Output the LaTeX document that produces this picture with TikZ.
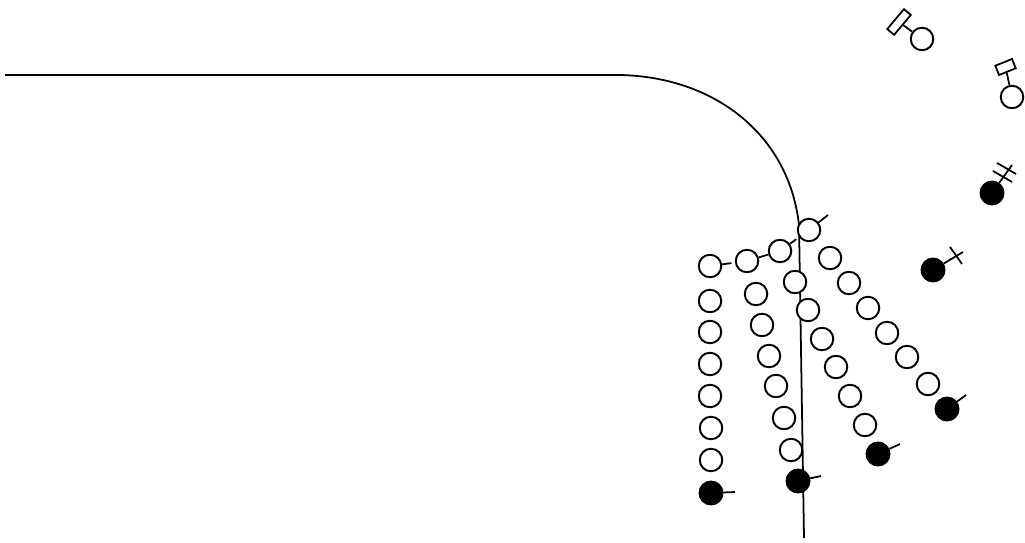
\documentclass[tikz,border=0pt]{standalone}
\usepackage{tikz}
\tikzset{
	bead/.style={circle, draw, fill=white, inner sep=0pt, minimum size=.225cm, line width=.55pt},
	endbead/.style={circle, draw, fill=black, inner sep=0pt, minimum size=.23cm, line width=.55pt},
	flag/.style={rectangle, draw, inner sep=0pt, line width=.5pt},
	stick/.style={line width=.5pt},
}

\begin{document}
\begin{tikzpicture}[x=.01cm, y=-.01cm]
	\useasboundingbox (0,0) rectangle (1025,543);

	% backbone
	\coordinate (start) at (5,75);
	\coordinate (bendA) at (620,75);
	\coordinate (bendB) at (799,225);
	\coordinate (stop) at (804,538);
	\draw [stick](start) -- (bendA) .. controls (715,77) and (789,135) .. (bendB) -- (stop);

	% head chain
	\node [bead] (h1) at (809,230) {};
	\node [bead] (h2) at (780,251) {};
	\node [bead] (h3) at (747,261) {};
	\node [bead] (h4) at (710,266) {};
	\coordinate (h1end) at (828,215);
	\draw [stick](h1) -- (h1end);
	\draw [stick, shorten >=1pt](h2) -- (h1);
	\draw [stick](h3) -- (h2);
	\draw [stick, shorten >=1pt](h4) -- (h3);

	% first arm
	\node [bead] (a1) at (710,301) {};
	\node [bead] (a2) at (710,332) {};
	\node [bead] (a3) at (710,364) {};
	\node [bead] (a4) at (710,396) {};
	\node [bead] (a5) at (711,428) {};
	\node [bead] (a6) at (711,460) {};
	\node [endbead] (a7) at (711,493) {};
	\coordinate (a7end) at (735,492);
	\draw [stick](a7) -- (a7end);

	% second arm
	\node [bead] (b1) at (756,294) {};
	\node [bead] (b2) at (762,325) {};
	\node [bead] (b3) at (769,356) {};
	\node [bead] (b4) at (776,386) {};
	\node [bead] (b5) at (784,418) {};
	\node [bead] (b6) at (791,450) {};
	\node [endbead] (b7) at (798,481) {};
	\coordinate (b7end) at (821,476);
	\draw [stick](b7) -- (b7end);

	% third arm
	\node [bead] (c1) at (795,282) {};
	\node [bead] (c2) at (808,310) {};
	\node [bead] (c3) at (822,339) {};
	\node [bead] (c4) at (836,367) {};
	\node [bead] (c5) at (850,396) {};
	\node [bead] (c6) at (865,425) {};
	\node [endbead] (c7) at (878,454) {};
	\coordinate (c7end) at (900,444);
	\draw [stick](c7) -- (c7end);

	% fourth arm
	\node [bead] (d1) at (830,258) {};
	\node [bead] (d2) at (849,283) {};
	\node [bead] (d3) at (868,308) {};
	\node [bead] (d4) at (887,333) {};
	\node [bead] (d5) at (907,357) {};
	\node [bead] (d6) at (928,384) {};
	\node [endbead] (d7) at (947,409) {};
	\coordinate (d7end) at (966,395);
	\draw [stick](d7) -- (d7end);

	% free ones with a bar
	\node [endbead] (e1) at (933,270) {};
	\coordinate (e1end) at (963,252);
	\coordinate (e1barA) at (950,247);
	\coordinate (e1barB) at (962,264);
	\draw [stick](e1) -- (e1end);
	\draw [stick](e1barA) -- (e1barB);

	\node [endbead] (f1) at (992,193) {};
	\coordinate (f1end) at (1012,165);
	\coordinate (f1barA) at (997,163);
	\coordinate (f1barB) at (1016,174);
	\coordinate (f1barC) at (993,171);
	\coordinate (f1barD) at (1012,182);
	\draw [stick](f1) -- (f1end);
	\draw [stick](f1barA) -- (f1barB);
	\draw [stick](f1barC) -- (f1barD);

	% free ones with a box
	\node [bead] (g1) at (922,39) {};
	\node [flag, minimum width=.26cm, minimum height=.09cm, rotate=50] (g1box) at (899,22) {};
	\draw [stick](g1) -- (g1box);

	\node [bead] (k1) at (1012,97) {};
	\node [flag, minimum width=.18cm, minimum height=.10cm, rotate=22] (k1box) at (1005.5,67) {};
	\draw [stick](k1) -- (k1box);
\end{tikzpicture}
\end{document}
